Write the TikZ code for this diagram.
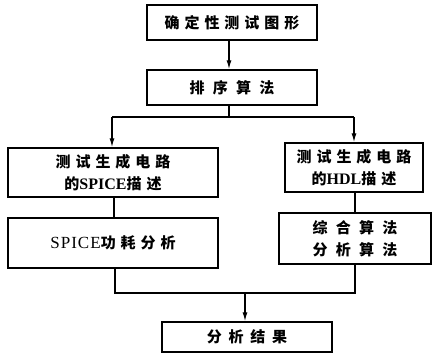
\documentclass[tikz,border=0pt]{standalone}
\usepackage{fontspec}
\newfontfamily\cjk{Noto Sans CJK SC}[LetterSpace=33]
\newfontfamily\lat{Liberation Serif}
\usetikzlibrary{arrows.meta}
\newcommand{\latw}[1]{{\lat\bfseries\fontsize{16}{18}\selectfont #1}}
\newcommand{\latr}[1]{{\lat\mdseries\fontsize{17}{18}\selectfont\addfontfeature{LetterSpace=6}#1}}
\newcommand{\wide}{\addfontfeature{LetterSpace=55}}
\begin{document}
\begin{tikzpicture}[x=1pt,y=-1pt,
  box/.style={draw, line width=1.4pt, rectangle, inner sep=0pt, align=center,
    font=\cjk\bfseries\fontsize{15}{22}\selectfont},
  conn/.style={line width=1.3pt},
  arr/.style={conn, -{Latex[length=9pt,width=5pt]}}]
\useasboundingbox (0,0) rectangle (432,357);
\node[box, minimum width=170pt, minimum height=35pt] (b1) at (232,22.5) {确定性测试图形};
\node[box, minimum width=170pt, minimum height=35pt] (b2) at (232,87.5) {\wide 排序算法};
\node[box, minimum width=210pt, minimum height=49pt] (l1) at (113,172.5) {测试生成电路\\的\latw{SPICE}描述};
\node[box, minimum width=138pt, minimum height=49pt] (r1) at (354,167.5) {测试生成电路\\的\latw{HDL}描述};
\node[box, minimum width=210pt, minimum height=50pt] (l2) at (113,243) {\latr{SPICE}功耗分析};
\node[box, minimum width=152pt, minimum height=51pt] (r2) at (355,238.5) {\wide 综合算法\\\wide 分析算法};
\node[box, minimum width=170pt, minimum height=30pt] (b3) at (247,337) {\addfontfeature{LetterSpace=45}分析结果};
\coordinate (t) at (229,0);
\coordinate (jc) at (229,117);
\coordinate (jl) at (112,117);
\coordinate (jr) at (354,117);
\coordinate (ml) at (114,0);
\coordinate (mr) at (355,0);
\coordinate (kl) at (115,293);
\coordinate (kr) at (355,293);
\coordinate (kc) at (245,293);
\draw[arr] (b1.south -| t) -- (b2.north -| t);
\draw[conn] (b2.south -| t) -- (jc);
\draw[conn] (jl) -- (jr);
\draw[arr] (jl) -- (jl |- l1.north);
\draw[arr] (jr) -- (jr |- r1.north);
\draw[conn] (l1.south -| ml) -- (l2.north -| ml);
\draw[conn] (r1.south -| mr) -- (r2.north -| mr);
\draw[conn] (l2.south -| kl) -- (kl) -- (kr) -- (r2.south -| kr);
\draw[arr] (kc) -- (b3.north -| kc);
\end{tikzpicture}
\end{document}
